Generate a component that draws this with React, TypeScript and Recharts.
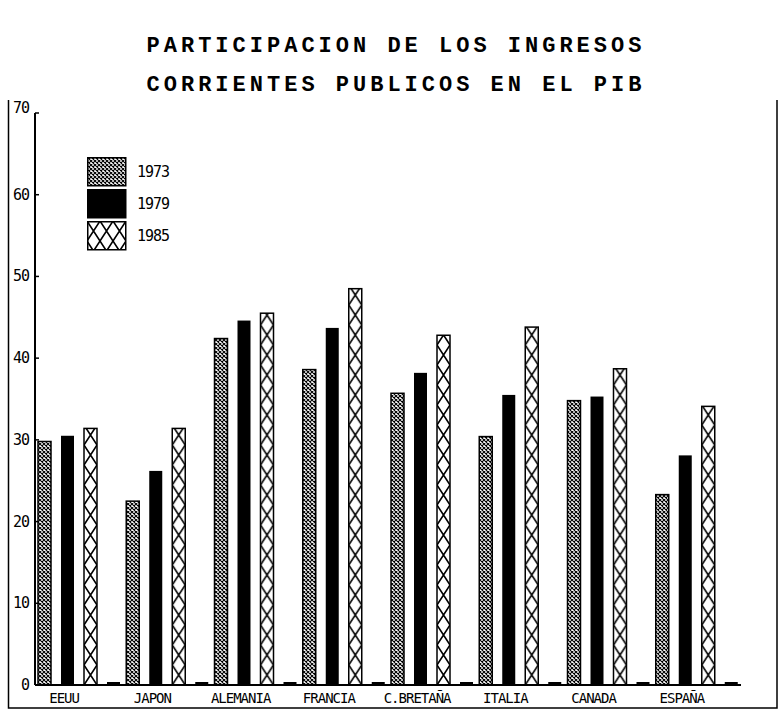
import React from "react";
import { BarChart, Bar, XAxis, YAxis, Legend } from "recharts";

// Participación de los ingresos corrientes públicos en el PIB (%)
const categories = ["EEUU", "JAPON", "ALEMANIA", "FRANCIA", "C.BRETAÑA", "ITALIA", "CANADA", "ESPAÑA"];
const y1973 = [29.8, 22.5, 42.4, 38.6, 35.7, 30.4, 34.8, 23.3];
const y1979 = [30.5, 26.2, 44.6, 43.7, 38.2, 35.5, 35.3, 28.1];
const y1985 = [31.4, 31.4, 45.5, 48.5, 42.8, 43.8, 38.7, 34.1];
// empty fourth slot of every group (drawn as a stub on the baseline)
const spacer = [0, 0, 0, 0, 0, 0, 0, 0];
const yTicks = [0, 10, 20, 30, 40, 50, 60, 70];
const legendLabels = ["1973", "1979", "1985"];

const data = categories.map((name, i) => ({
  name,
  y1973: y1973[i],
  y1979: y1979[i],
  y1985: y1985[i],
  sep: spacer[i],
}));

const MONO = '"DejaVu Sans Mono", "Liberation Mono", monospace';

const Patterns = () => (
  <svg width={0} height={0} style={{ position: "absolute" }}>
    <defs>
      <pattern id="p73" patternUnits="userSpaceOnUse" width={4} height={4}>
        <rect width={4} height={4} fill="#fff" />
        <path d="M0,0 L4,4 M4,0 L0,4" stroke="#000" strokeWidth={1.1} />
      </pattern>
      <pattern id="p85legend" patternUnits="userSpaceOnUse" width={13} height={20}>
        <rect width={13} height={20} fill="#fff" />
        <path d="M0,0 L13,20 M13,0 L0,20" stroke="#000" strokeWidth={1.6} />
      </pattern>
    </defs>
  </svg>
);

const Bar73 = (props: any) => {
  const { x, y, width, height } = props;
  return <rect x={x} y={y} width={width} height={height} fill="url(#p73)" stroke="#000" strokeWidth={1.5} />;
};

const Bar79 = (props: any) => {
  const { x, y, width, height } = props;
  return <rect x={x} y={y} width={width} height={height} fill="#000" />;
};

const Bar85 = (props: any) => {
  const { x, y, width, height, index } = props;
  const id = `p85-${index}`;
  return (
    <g>
      <defs>
        <pattern id={id} patternUnits="userSpaceOnUse" x={x} y={y + height} width={width} height={20}>
          <rect width={width} height={20} fill="#fff" />
          <path d={`M0,0 L${width},20 M${width},0 L0,20`} stroke="#000" strokeWidth={1.6} />
        </pattern>
      </defs>
      <rect x={x} y={y} width={width} height={height} fill={`url(#${id})`} stroke="#000" strokeWidth={1.5} />
    </g>
  );
};

const Stub = (props: any) => {
  const { x, y, width, height } = props;
  return <rect x={x} y={y + height - 3} width={width} height={3} fill="#000" />;
};

const XTick = (props: any) => {
  const { x, y, payload } = props;
  return (
    <text x={x - 15} y={y + 10} textAnchor="middle" fontFamily={MONO} fontSize={14} letterSpacing={-1} fill="#000">
      {payload.value}
    </text>
  );
};

const YTick = (props: any) => {
  const { x, y, payload } = props;
  return (
    <g>
      <text x={x - 1} y={payload.value === 70 ? y : y + 5} textAnchor="end" fontFamily={MONO} fontSize={15} letterSpacing={-1} fill="#000">
        {payload.value}
      </text>
      <line x1={x + 5} x2={x + 9} y1={y} y2={y} stroke="#000" strokeWidth={1.5} />
    </g>
  );
};

const LegendBox = () => (
  <div style={{ fontFamily: MONO, fontSize: 15, letterSpacing: -1, color: "#000" }}>
    {legendLabels.map((label, i) => (
      <div key={label} style={{ display: "flex", alignItems: "center", height: 32 }}>
        <svg width={40} height={30}>
          <rect
            x={0.75}
            y={0.75}
            width={38}
            height={28}
            fill={i === 0 ? "url(#p73)" : i === 1 ? "#000" : "url(#p85legend)"}
            stroke="#000"
            strokeWidth={1.5}
          />
        </svg>
        <span style={{ marginLeft: 10 }}>{label}</span>
      </div>
    ))}
  </div>
);

const TITLE_FONT = '"Liberation Mono", monospace';

export default function App() {
  return (
    <div style={{ position: "absolute", left: 0, top: 0, width: 782, height: 712, background: "#fff" }}>
      <Patterns />
      <svg width={782} height={110} style={{ position: "absolute", left: 0, top: 0 }}>
        <text x={396} y={52} textAnchor="middle" fontFamily={TITLE_FONT} fontWeight="bold" fontSize={22} letterSpacing={4} fill="#000">
          PARTICIPACION DE LOS INGRESOS
        </text>
        <text x={396} y={91} textAnchor="middle" fontFamily={TITLE_FONT} fontWeight="bold" fontSize={22} letterSpacing={4} fill="#000">
          CORRIENTES PUBLICOS EN EL PIB
        </text>
      </svg>
      <svg width={782} height={712} style={{ position: "absolute", left: 0, top: 0 }}>
        <path d="M8.5,100 L8.5,708 L777,708 L777,100" fill="none" stroke="#000" strokeWidth={1.5} />
      </svg>
      <div style={{ position: "absolute", left: 0, top: 0 }}>
        <BarChart
          width={782}
          height={712}
          data={data}
          margin={{ top: 113, right: 41, bottom: 7, left: 8 }}
          barSize={13}
          barGap={10}
          barCategoryGap={0}
        >
          <XAxis
            dataKey="name"
            height={20}
            interval={0}
            tickLine={false}
            axisLine={{ stroke: "#000", strokeWidth: 2 }}
            tick={<XTick />}
          />
          <XAxis xAxisId="top" orientation="top" dataKey="name" height={0} tick={false} tickLine={false} axisLine={{ stroke: "#000", strokeWidth: 2 }} />
          <YAxis
            domain={[0, 70]}
            ticks={yTicks}
            interval={0}
            width={27}
            tickSize={0}
            tickMargin={5}
            tickLine={false}
            axisLine={{ stroke: "#000", strokeWidth: 2 }}
            tick={<YTick />}
          />
          <YAxis yAxisId="right" orientation="right" width={0} tick={false} tickLine={false} axisLine={{ stroke: "#000", strokeWidth: 2 }} />
          <Legend
            layout="vertical"
            align="center"
            verticalAlign="middle"
            content={<LegendBox />}
            wrapperStyle={{ left: 87, top: 156, width: "auto", height: "auto" }}
          />
          <Bar dataKey="y1973" name="1973" shape={<Bar73 />} isAnimationActive={false} />
          <Bar dataKey="y1979" name="1979" shape={<Bar79 />} isAnimationActive={false} />
          <Bar dataKey="y1985" name="1985" shape={<Bar85 />} isAnimationActive={false} />
          <Bar dataKey="sep" legendType="none" minPointSize={3} shape={<Stub />} isAnimationActive={false} />
        </BarChart>
      </div>
    </div>
  );
}
